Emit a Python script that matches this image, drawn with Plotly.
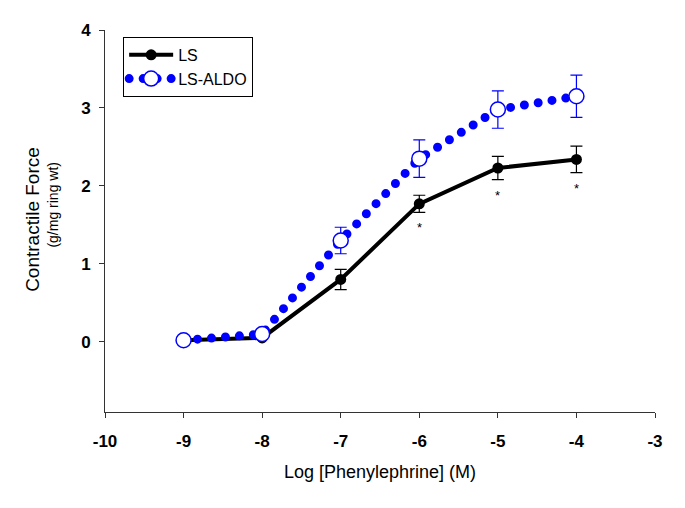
import plotly.graph_objects as go

# Data
log_pe = [-9, -8, -7, -6, -5, -4]
ls_force = [0.02, 0.05, 0.80, 1.77, 2.23, 2.34]
ls_err = [0.0, 0.0, 0.13, 0.11, 0.15, 0.17]
aldo_force = [0.02, 0.10, 1.30, 2.35, 2.98, 3.15]
aldo_err = [0.0, 0.0, 0.17, 0.24, 0.24, 0.27]
significant = [False, False, False, True, True, True]

x_ticks = [-10, -9, -8, -7, -6, -5, -4, -3]
y_ticks = [0, 1, 2, 3, 4]

FONT = "Liberation Sans, Arial, Helvetica, sans-serif"

fig = go.Figure()

fig.add_trace(go.Scatter(
    x=log_pe, y=ls_force, name="LS", mode="lines+markers",
    line=dict(color="black", width=4),
    marker=dict(color="black", size=11),
    error_y=dict(type="data", array=ls_err, visible=True,
                 color="black", thickness=1.2, width=6),
))

fig.add_trace(go.Scatter(
    x=log_pe, y=aldo_force, name="LS-ALDO", mode="lines+markers",
    line=dict(color="#0000ff", width=9, dash="0px,14px"),
    marker=dict(color="white", size=15, line=dict(color="#0000ff", width=1.5)),
    error_y=dict(type="data", array=aldo_err, visible=True,
                 color="#0000ff", thickness=1.2, width=6),
))

for x, y, e, s in zip(log_pe, ls_force, ls_err, significant):
    if s:
        fig.add_annotation(x=x, y=y - e, text="*", showarrow=False,
                           xref="x", yref="y", yanchor="top", yshift=-6,
                           font=dict(family=FONT, size=13, color="black"))

# Y-axis title (two lines of different sizes)
fig.add_annotation(text="Contractile Force", xref="paper", yref="paper",
                   x=0, y=0.503, xshift=-72, textangle=-90, showarrow=False,
                   xanchor="center", yanchor="middle",
                   font=dict(family=FONT, size=19, color="black"))
fig.add_annotation(text="(g/mg ring wt)", xref="paper", yref="paper",
                   x=0, y=0.543, xshift=-52, textangle=-90, showarrow=False,
                   xanchor="center", yanchor="middle",
                   font=dict(family=FONT, size=14, color="black"))

fig.update_layout(
    width=685, height=508,
    margin=dict(l=105, r=30, t=30, b=96),
    plot_bgcolor="white", paper_bgcolor="white",
    font=dict(family=FONT, color="black"),
    showlegend=True,
    legend=dict(x=0.033, y=0.982, xanchor="left", yanchor="top",
                bordercolor="black", borderwidth=1, bgcolor="white",
                itemwidth=44,
                font=dict(family=FONT, size=16), tracegroupgap=0),
    xaxis=dict(range=[-10, -3], tickvals=x_ticks, ticktext=[str(v) for v in x_ticks],
               showgrid=False, zeroline=False, showline=True, linecolor="#333",
               linewidth=1, ticks="outside", ticklen=5, tickcolor="#333",
               ticklabelstandoff=9,
               tickfont=dict(family=FONT, size=17, weight="bold"),
               title=dict(text="Log [Phenylephrine] (M)", font=dict(family=FONT, size=18),
                          standoff=14)),
    yaxis=dict(range=[-0.9, 4], tickvals=y_ticks, ticktext=[str(v) for v in y_ticks],
               showgrid=False, zeroline=False, showline=True, linecolor="#333",
               linewidth=1, ticks="outside", ticklen=5, tickcolor="#333",
               ticklabelstandoff=5,
               tickfont=dict(family=FONT, size=17, weight="bold")),
)

post = """
document.body.style.margin = '0';
var st = document.createElement('style');
st.innerHTML = '.js-line[style*="stroke-dasharray"]{stroke-linecap:round !important;}';
document.head.appendChild(st);
"""

fig.write_html("out.html", post_script=post, config={"displayModeBar": False})
